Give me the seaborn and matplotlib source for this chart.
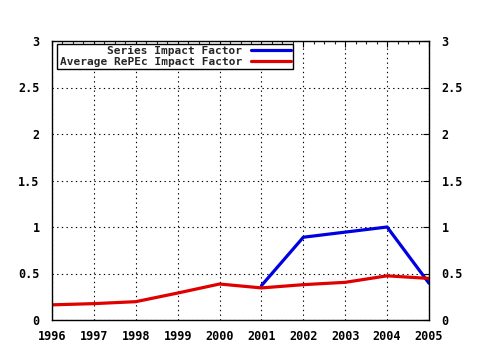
import matplotlib
matplotlib.use("Agg")
import matplotlib.pyplot as plt
import seaborn as sns
import pandas as pd
import numpy as np
from matplotlib.ticker import MultipleLocator
from matplotlib.lines import Line2D

years = [1996, 1997, 1998, 1999, 2000, 2001, 2002, 2003, 2004, 2005]
series_if = [np.nan, np.nan, np.nan, np.nan, np.nan, 0.37, 0.89, 0.945, 1.0, 0.395]
average_if = [0.163, 0.176, 0.197, 0.29, 0.387, 0.345, 0.38, 0.405, 0.475, 0.447]
series_names = ["Series Impact Factor", "Average RePEc Impact Factor"]
y_ticks = [0, 0.5, 1, 1.5, 2, 2.5, 3]
y_labels = ["0", "0.5", "1", "1.5", "2", "2.5", "3"]

df = pd.DataFrame({
    "year": years * 2,
    "value": series_if + average_if,
    "series": [series_names[0]] * len(years) + [series_names[1]] * len(years),
})

sns.set_style("white")
plt.rcParams["font.family"] = ["DejaVu Sans Mono"]
plt.rcParams["font.weight"] = "bold"

fig = plt.figure(figsize=(4.8, 3.5), dpi=100)
ax = fig.add_axes([52 / 480, 30 / 350, 377 / 480, 279 / 350])

sns.lineplot(data=df, x="year", y="value", hue="series", hue_order=series_names,
             palette=["#0000e0", "#e00000"], linewidth=2.3, ax=ax, legend=False)

ax.set_xlim(1996, 2005)
ax.set_ylim(0, 3)
ax.set_xticks(years)
ax.set_xticklabels([str(y) for y in years], fontsize=8.5, fontweight="bold")
ax.set_yticks(y_ticks)
ax.set_yticklabels(y_labels, fontsize=8.5, fontweight="bold")
ax.xaxis.set_minor_locator(MultipleLocator(0.25))
ax.set_xlabel("")
ax.set_ylabel("")
ax.grid(True, which="major", color="black", linestyle=(0, (1.2, 3)), linewidth=0.8)
for s in ax.spines.values():
    s.set_color("black")
    s.set_linewidth(1.0)
ax.tick_params(axis="both", which="major", direction="in", length=4, width=0.8,
               top=True, right=True, labelright=True, colors="black")
ax.tick_params(axis="x", which="major", pad=7)
ax.tick_params(axis="y", which="major", pad=9)
ax.tick_params(axis="x", which="minor", direction="in", length=2, width=0.8, top=True)

handles = [Line2D([], [], color="#0000e0", linewidth=2.3),
           Line2D([], [], color="#e00000", linewidth=2.3)]
leg = ax.legend(handles, series_names, loc="upper left", bbox_to_anchor=(0.014, 0.99),
                markerfirst=False, frameon=True, fancybox=False, framealpha=1,
                edgecolor="black", handlelength=3.6, handletextpad=0.8,
                borderpad=0.2, labelspacing=0.1, borderaxespad=0,
                prop={"family": "DejaVu Sans Mono", "weight": "bold", "size": 8})
leg.get_frame().set_linewidth(1.0)

fig.savefig("out.png", dpi=100)
